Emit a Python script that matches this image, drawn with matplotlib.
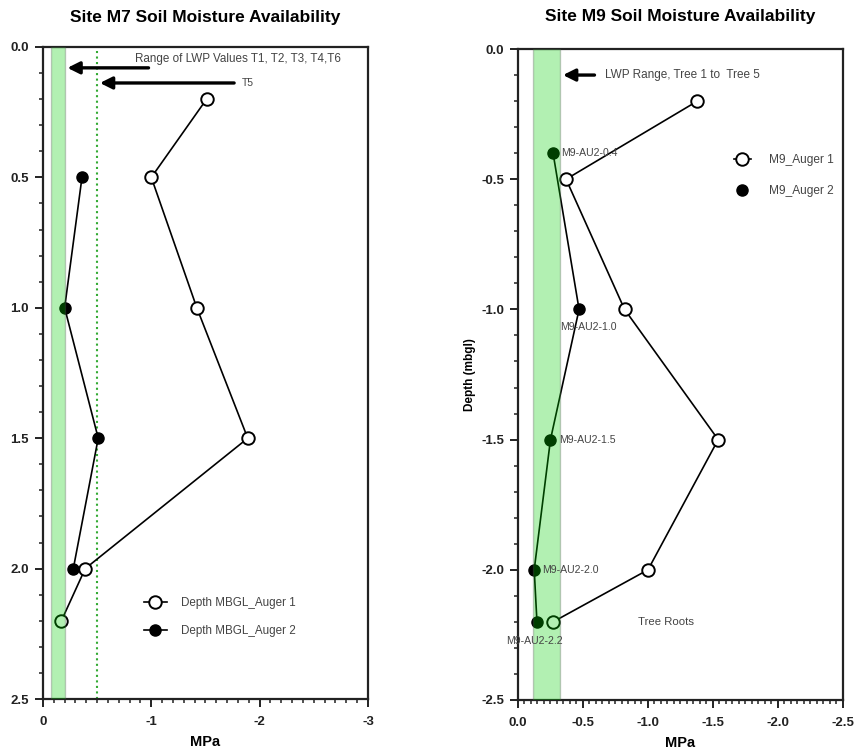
#!/usr/bin/env python3
"""Soil moisture availability profiles for sites M7 and M9."""
import matplotlib
matplotlib.use('Agg')
import matplotlib.pyplot as plt
from matplotlib.lines import Line2D
from matplotlib.ticker import MultipleLocator, FormatStrFormatter

plt.rcParams['font.family'] = ['Liberation Sans', 'DejaVu Sans']
plt.rcParams['axes.unicode_minus'] = False

# Site M7 data (depth positive downwards, MPa negative)
m7_a1_depth = [0.2, 0.5, 1.0, 1.5, 2.0, 2.2]
m7_a1_mpa = [-1.51, -1.0, -1.42, -1.89, -0.39, -0.17]
m7_a2_depth = [0.5, 1.0, 1.5, 2.0]
m7_a2_mpa = [-0.36, -0.2, -0.51, -0.28]
m7_lwp_band = (-0.074, -0.2)
m7_t5 = -0.5

# Site M9 data (depth negative)
m9_a1_depth = [-0.2, -0.5, -1.0, -1.5, -2.0, -2.2]
m9_a1_mpa = [-1.38, -0.37, -0.82, -1.54, -1.0, -0.27]
m9_a2_depth = [-0.4, -1.0, -1.5, -2.0, -2.2]
m9_a2_mpa = [-0.27, -0.47, -0.25, -0.125, -0.146]
m9_a2_labels = ['M9-AU2-0.4', 'M9-AU2-1.0', 'M9-AU2-1.5', 'M9-AU2-2.0', 'M9-AU2-2.2']
m9_lwp_band = (-0.115, -0.325)

band_color = '#00d000'
note_color = '#444444'


def style_axes(ax):
    for sp in ax.spines.values():
        sp.set_linewidth(1.6)
        sp.set_color('#222222')
    ax.tick_params(which='major', direction='out', length=6, width=1.4,
                   labelsize=9.5, colors='#222222', pad=4)
    ax.tick_params(which='minor', direction='out', length=3, width=1.1,
                   colors='#222222')
    ax.tick_params(axis='x', which='major', pad=6)
    for lab in ax.get_xticklabels() + ax.get_yticklabels():
        lab.set_fontweight('bold')


def main():
    fig = plt.figure(figsize=(8.56, 7.53), dpi=100)
    ax1 = fig.add_axes([0.0502, 0.0717, 0.3797, 0.8659])
    ax2 = fig.add_axes([0.6051, 0.0704, 0.3797, 0.8645])

    # ---- Site M7 ----
    ax1.plot(m7_a1_mpa, m7_a1_depth, color='black', lw=1.2, marker='o',
             ms=9, mfc='white', mec='black', mew=1.4, zorder=3)
    ax1.plot(m7_a2_mpa, m7_a2_depth, color='black', lw=1.2, marker='o',
             ms=8, mfc='black', mec='black', zorder=3)
    ax1.axvspan(*m7_lwp_band, facecolor=band_color, alpha=0.3,
                edgecolor='#555555', lw=1.0, zorder=4)
    ax1.axvline(m7_t5, color='#33aa33', ls=':', lw=1.5, zorder=2)

    ax1.set_xlim(0, -3)
    ax1.set_ylim(2.5, 0)
    ax1.xaxis.set_major_locator(MultipleLocator(1))
    ax1.xaxis.set_minor_locator(MultipleLocator(0.1))
    ax1.yaxis.set_major_locator(MultipleLocator(0.5))
    ax1.yaxis.set_minor_locator(MultipleLocator(0.1))
    ax1.xaxis.set_major_formatter(FormatStrFormatter('%d'))
    ax1.yaxis.set_major_formatter(FormatStrFormatter('%.1f'))
    ax1.set_xlabel('MPa', fontsize=10.5, fontweight='bold', labelpad=5)
    ax1.set_title('Site M7 Soil Moisture Availability', fontsize=12.5,
                  fontweight='bold', pad=18)

    ax1.annotate('', xy=(-0.2, 0.08), xytext=(-1.0, 0.08),
                 arrowprops=dict(arrowstyle='-|>', color='black', lw=2.4,
                                 mutation_scale=18), zorder=5)
    ax1.text(-0.85, 0.045, 'Range of LWP Values T1, T2, T3, T4,T6',
             fontsize=8.4, color=note_color, va='center')
    ax1.annotate('', xy=(-0.5, 0.138), xytext=(-1.79, 0.138),
                 arrowprops=dict(arrowstyle='-|>', color='black', lw=2.4,
                                 mutation_scale=18), zorder=5)
    ax1.text(-1.84, 0.138, 'T5', fontsize=7.5, color=note_color, va='center')

    h1 = [Line2D([], [], color='black', lw=1.2, marker='o', ms=9,
                 mfc='white', mec='black', mew=1.4),
          Line2D([], [], color='black', lw=1.2, marker='o', ms=8,
                 mfc='black', mec='black')]
    ax1.legend(h1, ['Depth MBGL_Auger 1', 'Depth MBGL_Auger 2'],
               loc='center left', bbox_to_anchor=(0.31, 0.126), frameon=False,
               fontsize=8.4, handlelength=2.0, handletextpad=1.2,
               labelspacing=1.35, labelcolor=note_color, borderpad=0,
               borderaxespad=0)

    # ---- Site M9 ----
    ax2.plot(m9_a1_mpa, m9_a1_depth, color='black', lw=1.2, marker='o',
             ms=9, mfc='white', mec='black', mew=1.4, zorder=3)
    ax2.plot(m9_a2_mpa, m9_a2_depth, color='black', lw=1.2, marker='o',
             ms=8, mfc='black', mec='black', zorder=3)
    ax2.axvspan(*m9_lwp_band, facecolor=band_color, alpha=0.3,
                edgecolor='#555555', lw=1.0, zorder=4)

    offsets = [(6, 0), (-14, -13), (6, 0), (6, 0), (-22, -14)]
    for x, y, lab, off in zip(m9_a2_mpa, m9_a2_depth, m9_a2_labels, offsets):
        ax2.annotate(lab, (x, y), xytext=off, textcoords='offset points',
                     fontsize=7.6, color=note_color, va='center', zorder=6)

    ax2.set_xlim(0, -2.5)
    ax2.set_ylim(-2.5, 0)
    ax2.xaxis.set_major_locator(MultipleLocator(0.5))
    ax2.xaxis.set_minor_locator(MultipleLocator(0.05))
    ax2.yaxis.set_major_locator(MultipleLocator(0.5))
    ax2.yaxis.set_minor_locator(MultipleLocator(0.1))
    ax2.xaxis.set_major_formatter(FormatStrFormatter('%.1f'))
    ax2.yaxis.set_major_formatter(FormatStrFormatter('%.1f'))
    ax2.set_xlabel('MPa', fontsize=10.5, fontweight='bold', labelpad=5)
    ax2.set_ylabel('Depth (mbgl)', fontsize=8.5, fontweight='bold')
    ax2.set_title('Site M9 Soil Moisture Availability', fontsize=12.5,
                  fontweight='bold', pad=20)

    ax2.annotate('', xy=(-0.325, -0.1), xytext=(-0.61, -0.1),
                 arrowprops=dict(arrowstyle='-|>', color='black', lw=2.4,
                                 mutation_scale=18), zorder=5)
    ax2.text(-0.67, -0.1, 'LWP Range, Tree 1 to  Tree 5', fontsize=8.5,
             color=note_color, va='center')
    ax2.text(-0.92, -2.2, 'Tree Roots', fontsize=8.2, color=note_color,
             va='center')

    h2 = [Line2D([], [], color='black', lw=1.2, marker='o', ms=9,
                 mfc='white', mec='black', mew=1.4),
          Line2D([], [], ls='none', marker='o', ms=8,
                 mfc='black', mec='black')]
    ax2.legend(h2, ['M9_Auger 1', 'M9_Auger 2'], loc='center left',
               bbox_to_anchor=(0.665, 0.806), frameon=False, fontsize=8.6,
               handlelength=1.4, handletextpad=1.5, labelspacing=1.6,
               labelcolor=note_color, borderpad=0, borderaxespad=0)

    style_axes(ax1)
    style_axes(ax2)

    fig.savefig('out.png', dpi=100)


if __name__ == '__main__':
    main()
